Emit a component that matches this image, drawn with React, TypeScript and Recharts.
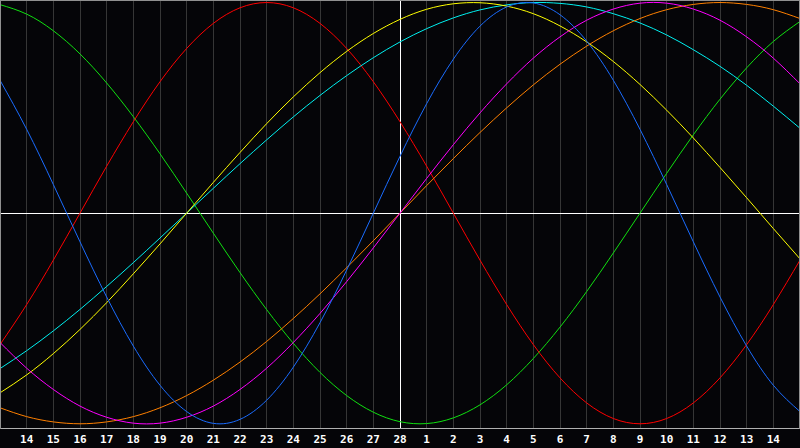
import { LineChart, Line, XAxis, YAxis, CartesianGrid, ReferenceLine } from 'recharts';

// day slots across the chart, 0..30 (slot 15 is today)
const SLOTS = Array.from({ length: 31 }, (_, i) => i);
const TICKS = Array.from({ length: 29 }, (_, i) => i + 1);
const TICK_LABELS = [
  '14', '15', '16', '17', '18', '19', '20', '21', '22', '23', '24', '25', '26', '27', '28',
  '1', '2', '3', '4', '5', '6', '7', '8', '9', '10', '11', '12', '13', '14',
];

const red = [
  -0.624, -0.434, -0.223, 0, 0.223, 0.434, 0.624, 0.782, 0.901, 0.975, 1, 0.975, 0.901, 0.782, 0.624, 0.434,
  0.223, 0, -0.223, -0.434, -0.624, -0.782, -0.901, -0.975, -1, -0.975, -0.901, -0.782, -0.624, -0.434, -0.223,
];
const green = [
  0.99, 0.945, 0.866, 0.756, 0.618, 0.458, 0.282, 0.095, -0.095, -0.282, -0.458, -0.618, -0.756, -0.866, -0.945, -0.99,
  -0.999, -0.972, -0.91, -0.815, -0.69, -0.541, -0.372, -0.189, 0, 0.189, 0.372, 0.541, 0.69, 0.815, 0.91,
];
const blue = [
  0.631, 0.398, 0.136, -0.136, -0.398, -0.631, -0.817, -0.942, -0.998, -0.979, -0.888, -0.731, -0.52, -0.27, 0, 0.27,
  0.52, 0.731, 0.888, 0.979, 0.998, 0.942, 0.817, 0.631, 0.398, 0.136, -0.136, -0.398, -0.631, -0.817, -0.942,
];
const yellow = [
  -0.853, -0.768, -0.667, -0.552, -0.425, -0.288, -0.146, 0, 0.146, 0.288, 0.425, 0.552, 0.667, 0.768, 0.853, 0.92,
  0.968, 0.994, 0.999, 0.983, 0.947, 0.889, 0.813, 0.72, 0.611, 0.489, 0.357, 0.217, 0.073, -0.073, -0.217,
];
const cyan = [
  -0.738, -0.653, -0.559, -0.457, -0.348, -0.235, -0.118, 0, 0.118, 0.235, 0.348, 0.457, 0.559, 0.653, 0.738, 0.813,
  0.876, 0.927, 0.965, 0.989, 1, 0.996, 0.979, 0.947, 0.903, 0.846, 0.776, 0.697, 0.607, 0.508, 0.403,
];
const magenta = [
  -0.614, -0.736, -0.837, -0.916, -0.969, -0.997, -0.997, -0.969, -0.916, -0.837, -0.736, -0.614, -0.476, -0.325, -0.165, 0,
  0.165, 0.325, 0.476, 0.614, 0.736, 0.837, 0.916, 0.969, 0.997, 0.997, 0.969, 0.916, 0.837, 0.736, 0.614,
];
const orange = [
  -0.924, -0.966, -0.991, -1, -0.991, -0.966, -0.924, -0.866, -0.793, -0.707, -0.609, -0.5, -0.383, -0.259, -0.131, 0,
  0.131, 0.259, 0.383, 0.5, 0.609, 0.707, 0.793, 0.866, 0.924, 0.966, 0.991, 1, 0.991, 0.966, 0.924,
];

const SERIES = [
  { key: 'green', values: green, color: '#10e010' },
  { key: 'red', values: red, color: '#ff0000' },
  { key: 'cyan', values: cyan, color: '#00f0f0' },
  { key: 'yellow', values: yellow, color: '#ffff00' },
  { key: 'orange', values: orange, color: '#ff8000' },
  { key: 'magenta', values: magenta, color: '#ff00ff' },
  { key: 'blue', values: blue, color: '#1a6cff' },
];

const data = SLOTS.map((slot, i) => {
  const row: Record<string, number> = { slot };
  SERIES.forEach((s) => {
    row[s.key] = s.values[i];
  });
  return row;
});

export default function App() {
  return (
    <div style={{ position: 'absolute', left: 0, top: 0, width: 800, height: 448, background: '#050508' }}>
      <LineChart width={800} height={448} data={data} margin={{ top: 0, right: 0, bottom: 0, left: 0 }}>
        <CartesianGrid horizontal={false} stroke="#363636" shapeRendering="crispEdges" />
        <XAxis
          dataKey="slot"
          type="number"
          domain={[0, 30]}
          ticks={TICKS}
          interval={0}
          height={20}
          tickLine={false}
          tickSize={5}
          tickMargin={2}
          axisLine={{ stroke: '#b0b0b0', shapeRendering: 'crispEdges' }}
          tickFormatter={(v: number) => TICK_LABELS[v - 1]}
          tick={{ fill: '#ffffff', fontSize: 11, fontWeight: 'bold', fontFamily: 'DejaVu Sans Mono' }}
        />
        <YAxis hide domain={[-1.02, 1.012]} />
        <ReferenceLine x={15} stroke="#ffffff" shapeRendering="crispEdges" />
        <ReferenceLine y={0} stroke="#ffffff" shapeRendering="crispEdges" />
        {SERIES.map((s) => (
          <Line
            key={s.key}
            dataKey={s.key}
            type="natural"
            stroke={s.color}
            strokeWidth={1}
            dot={false}
            activeDot={false}
            isAnimationActive={false}
          />
        ))}
      </LineChart>
      <div
        style={{
          position: 'absolute',
          left: 0,
          top: 0,
          width: 800,
          height: 429,
          borderTop: '1px solid #909090',
          borderLeft: '1px solid #909090',
          borderRight: '1px solid #909090',
          boxSizing: 'border-box',
          pointerEvents: 'none',
        }}
      />
    </div>
  );
}
